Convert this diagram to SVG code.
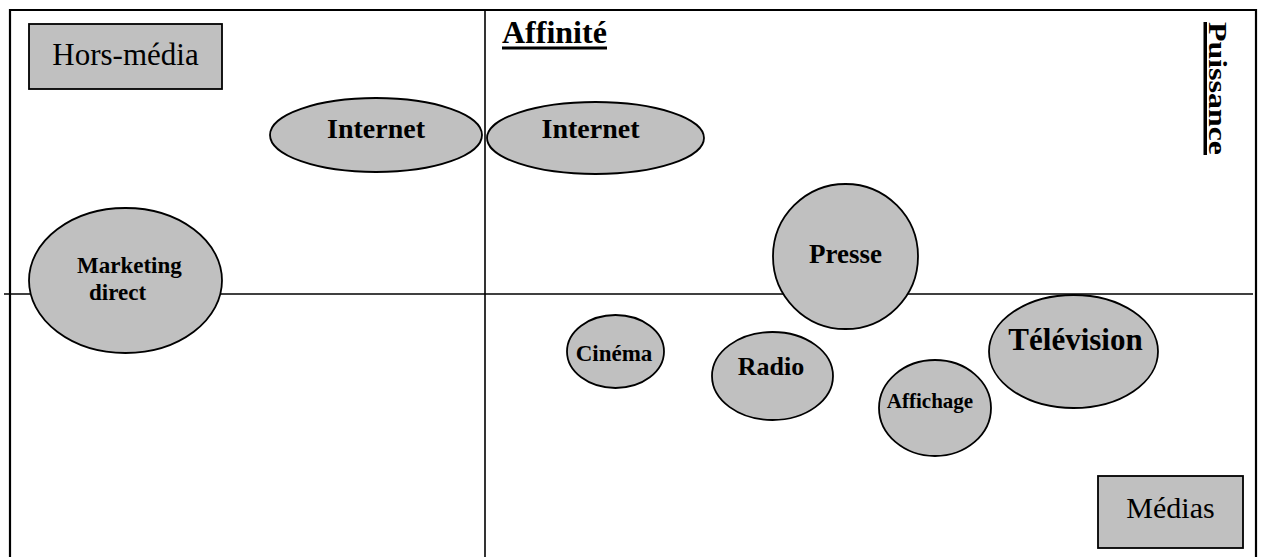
<svg xmlns="http://www.w3.org/2000/svg" width="1262" height="557" viewBox="0 0 1262 557">
<style>
.shape{fill:#c0c0c0;stroke:#000;stroke-width:1.8}
.frame{stroke:#000;stroke-width:2.2;fill:none}
.axis{stroke:#000;stroke-width:1.6;fill:none}
.b{font-family:"Liberation Serif","Times New Roman",serif;font-weight:bold;fill:#000;text-anchor:middle}
.r{font-family:"Liberation Serif","Times New Roman",serif;fill:#000;text-anchor:middle}
</style>
<rect width="1262" height="557" fill="#fff"/>
<g id="connectors">
<path class="frame" d="M10,557 V10 H1256 V557"/>
<line class="axis" x1="485" y1="10" x2="485" y2="557"/>
<line class="axis" x1="4" y1="294" x2="1253" y2="294"/>
</g>
<g id="hors-media">
<rect class="shape" x="29" y="24" width="193" height="65"/>
<text class="r" x="125.5" y="65" font-size="31">Hors-média</text>
</g>
<g id="medias">
<rect class="shape" x="1098" y="476" width="145" height="72"/>
<text class="r" x="1170.5" y="518" font-size="30">Médias</text>
</g>
<g id="affinite">
<text class="b" x="502" y="43" font-size="32" style="text-anchor:start">Affinité</text>
<rect x="502" y="46.5" width="105" height="3" fill="#000"/>
</g>
<g id="puissance">
<text class="b" transform="translate(1209,22) rotate(90)" x="0" y="0" font-size="26" style="text-anchor:start" textLength="133" lengthAdjust="spacingAndGlyphs">Puissance</text>
<rect x="1203.5" y="22" width="3.5" height="133" fill="#000"/>
</g>
<g id="internet-hors">
<ellipse class="shape" cx="376" cy="135" rx="106" ry="37"/>
<text class="b" x="376" y="138" font-size="28">Internet</text>
</g>
<g id="internet-media">
<ellipse class="shape" cx="595.5" cy="138" rx="108.5" ry="36"/>
<text class="b" x="590.5" y="138" font-size="28">Internet</text>
</g>
<g id="marketing-direct">
<ellipse class="shape" cx="125.5" cy="280.5" rx="96.5" ry="72.5"/>
<text class="b" x="77" y="273" font-size="23" style="text-anchor:start">Marketing</text>
<text class="b" x="89" y="300" font-size="23" style="text-anchor:start">direct</text>
</g>
<g id="presse">
<ellipse class="shape" cx="845.5" cy="256.5" rx="72.5" ry="72.5"/>
<text class="b" x="845.5" y="263" font-size="27">Presse</text>
</g>
<g id="cinema">
<ellipse class="shape" cx="615.5" cy="351.5" rx="48.5" ry="36.5"/>
<text class="b" x="614" y="361" font-size="23">Cinéma</text>
</g>
<g id="radio">
<ellipse class="shape" cx="772.5" cy="376" rx="60.5" ry="44"/>
<text class="b" x="771" y="375" font-size="26">Radio</text>
</g>
<g id="television">
<ellipse class="shape" cx="1073.5" cy="351.5" rx="84.5" ry="56.5"/>
<text class="b" x="1075.5" y="350" font-size="31">Télévision</text>
</g>
<g id="affichage">
<ellipse class="shape" cx="935" cy="408" rx="56" ry="48"/>
<text class="b" x="930" y="408" font-size="21">Affichage</text>
</g>
</svg>
